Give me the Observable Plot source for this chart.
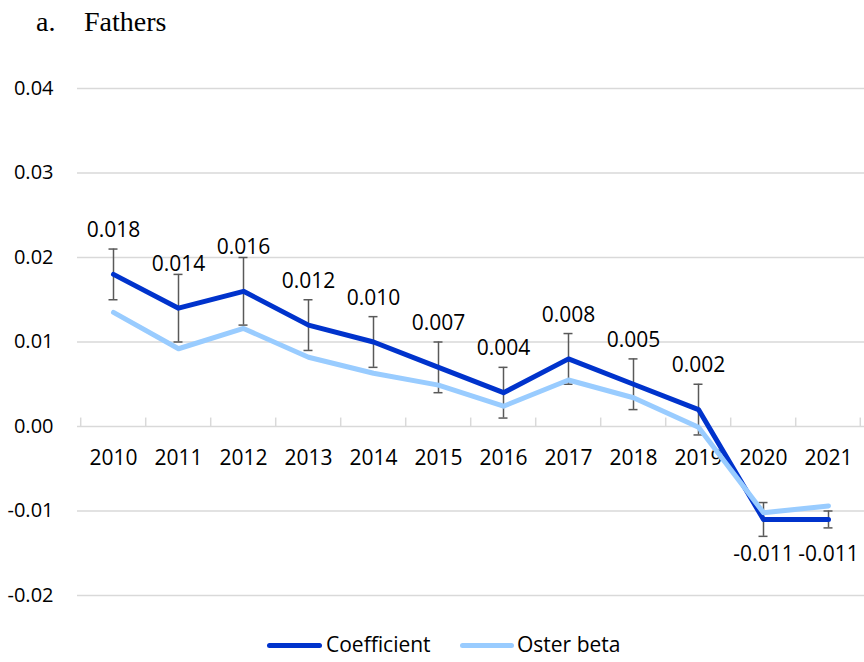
<!DOCTYPE html>
<html>
<head>
<meta charset="utf-8">
<script src="https://cdn.jsdelivr.net/npm/d3@7"></script>
<script src="https://cdn.jsdelivr.net/npm/@observablehq/plot@0.6"></script>
<style>
  html, body { margin: 0; padding: 0; background: #fff; }
  #page { position: relative; width: 864px; height: 662px; overflow: hidden; }
  .title { position: absolute; top: 0; font-family: "Liberation Serif", "Times New Roman", serif; font-size: 28px; line-height: 34px; color: #000; }
  #chart { position: absolute; left: 0; top: 40px; }
  #legend { position: absolute; top: 633px; left: 0; width: 864px; height: 26px; font-family: "Open Sans", sans-serif; font-size: 21px; color: #000; }
  .sw { position: absolute; top: 10px; height: 5px; border-radius: 3px; }
  .lt { position: absolute; top: -2px; line-height: 26px; }
</style>
</head>
<body>
<div id="page">
  <span class="title" style="left:36px; top:5px;">a.</span>
  <span class="title" style="left:84px; top:5px;">Fathers</span>
  <div id="chart"></div>
  <div id="legend">
    <div class="sw" style="left:267px; width:55px; background:#0033CC;"></div>
    <span class="lt" style="left:326px;">Coefficient</span>
    <div class="sw" style="left:460px; width:54px; background:#99CCFF;"></div>
    <span class="lt" style="left:517px;">Oster beta</span>
  </div>
</div>
<script>
const years = ["2010","2011","2012","2013","2014","2015","2016","2017","2018","2019","2020","2021"];
const coefficient = [0.018, 0.014, 0.016, 0.012, 0.010, 0.007, 0.004, 0.008, 0.005, 0.002, -0.011, -0.011];
const ciLow  = [0.015, 0.010, 0.012, 0.009, 0.007, 0.004, 0.001, 0.005, 0.002, -0.001, -0.013, -0.012];
const ciHigh = [0.021, 0.018, 0.020, 0.015, 0.013, 0.010, 0.007, 0.011, 0.008, 0.005, -0.009, -0.010];
const osterBeta = [0.0135, 0.0092, 0.0116, 0.0082, 0.0063, 0.0049, 0.0024, 0.0055, 0.0034, -0.0001, -0.0102, -0.0094];
const yTicks = [-0.02, -0.01, 0.00, 0.01, 0.02, 0.03, 0.04];
const seriesNames = ["Coefficient", "Oster beta"];

const data = years.map((y, i) => ({year: y, coef: coefficient[i], lo: ciLow[i], hi: ciHigh[i], oster: osterBeta[i]}));

const W = 864, H = 580, ML = 77, MR = 0, MT = 48, MB = 25;
const step = (W - ML - MR) / years.length;
const dark = "#0033CC", light = "#99CCFF", grid = "#D9D9D9", err = "#595959";

const chart = Plot.plot({
  width: W, height: H,
  marginLeft: ML, marginRight: MR, marginTop: MT, marginBottom: MB,
  style: {fontFamily: "Open Sans, sans-serif", fontSize: "20px", color: "#000", background: "#fff"},
  x: {type: "point", domain: years, padding: 0.5, axis: null},
  y: {domain: [-0.02, 0.04], ticks: yTicks, tickFormat: d => d.toFixed(2), label: null},
  marks: [
    Plot.ruleY(yTicks, {stroke: grid, strokeWidth: 1.5}),
    Plot.axisY(yTicks, {tickSize: 0, tickPadding: 24, tickFormat: d => d.toFixed(2), fontSize: 20, label: null}),
    // category boundary ticks on the zero axis
    Plot.ruleX(years, {x: d => d, dx: -step / 2, y1: 0.001, y2: 0, stroke: grid, strokeWidth: 1.5}),
    Plot.ruleX(years.slice(-1), {x: d => d, dx: step / 2 - 1, y1: 0.001, y2: 0, stroke: grid, strokeWidth: 1.5}),
    Plot.text(years, {x: d => d, y: 0, dy: 32, text: d => d, fontSize: 21, fill: "#000"}),
    // error bars
    Plot.ruleX(data, {x: "year", y1: "lo", y2: "hi", stroke: err, strokeWidth: 1.5}),
    Plot.ruleY(data, {y: "hi", x1: "year", x2: "year", insetLeft: -4.5, insetRight: -4.5, stroke: err, strokeWidth: 1.5}),
    Plot.ruleY(data, {y: "lo", x1: "year", x2: "year", insetLeft: -4.5, insetRight: -4.5, stroke: err, strokeWidth: 1.5}),
    // lines
    Plot.line(data, {x: "year", y: "coef", stroke: dark, strokeWidth: 5, strokeLinejoin: "round", strokeLinecap: "round"}),
    Plot.line(data, {x: "year", y: "oster", stroke: light, strokeWidth: 5, strokeLinejoin: "round", strokeLinecap: "round"}),
    // data labels
    Plot.text(data.filter(d => d.coef >= 0), {x: "year", y: "coef", dy: -44, text: d => d.coef.toFixed(3), fontSize: 21, fill: "#000"}),
    Plot.text(data.filter(d => d.coef < 0), {x: "year", y: "coef", dy: 35, text: d => d.coef.toFixed(3), fontSize: 21, fill: "#000"})
  ]
});
document.getElementById("chart").appendChild(chart);
</script>
</body>
</html>
